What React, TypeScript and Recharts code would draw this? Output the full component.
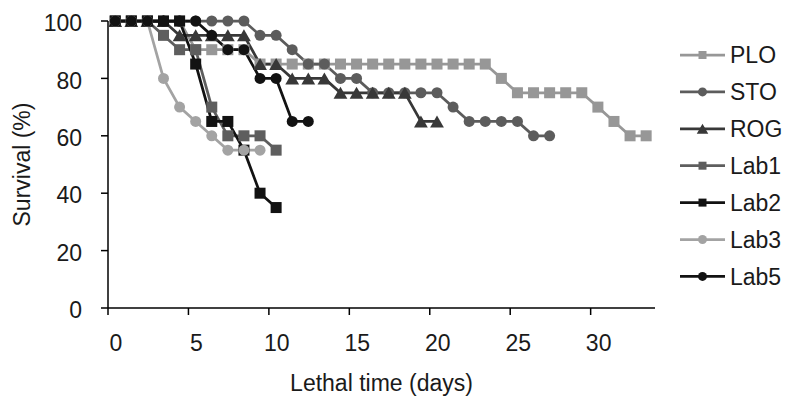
import { Legend, Line, LineChart, XAxis, YAxis } from "recharts";

// day positions of the observations (points sit mid-way through each day)
const days = [
  0.45, 1.45, 2.45, 3.45, 4.45, 5.45, 6.45, 7.45, 8.45, 9.45, 10.45, 11.45,
  12.45, 13.45, 14.45, 15.45, 16.45, 17.45, 18.45, 19.45, 20.45, 21.45, 22.45,
  23.45, 24.45, 25.45, 26.45, 27.45, 28.45, 29.45, 30.45, 31.45, 32.45, 33.45,
];

const plo = [
  100, 100, 100, 100, 100, 90, 90, 90, 90, 85, 85, 85, 85, 85, 85, 85, 85, 85,
  85, 85, 85, 85, 85, 85, 80, 75, 75, 75, 75, 75, 70, 65, 60, 60,
];
const sto = [
  100, 100, 100, 100, 100, 100, 100, 100, 100, 95, 95, 90, 85, 85, 80, 80, 75,
  75, 75, 75, 75, 70, 65, 65, 65, 65, 60, 60,
];
const rog = [
  100, 100, 100, 100, 95, 95, 95, 95, 95, 85, 85, 80, 80, 80, 75, 75, 75, 75,
  75, 65, 65,
];
const lab1 = [100, 100, 100, 95, 90, 90, 70, 60, 60, 60, 55];
const lab2 = [100, 100, 100, 100, 100, 85, 65, 65, 55, 40, 35];
const lab3 = [100, 100, 100, 80, 70, 65, 60, 55, 55, 55];
const lab5 = [100, 100, 100, 100, 100, 100, 95, 90, 90, 80, 80, 65, 65];

const seriesNames = ["PLO", "STO", "ROG", "Lab1", "Lab2", "Lab3", "Lab5"];
const xTicks = [0, 5, 10, 15, 20, 25, 30];
const yTicks = [0, 20, 40, 60, 80, 100];

const rows = days.map((day, i) => ({
  day,
  PLO: plo[i],
  STO: sto[i],
  ROG: rog[i],
  Lab1: lab1[i],
  Lab2: lab2[i],
  Lab3: lab3[i],
  Lab5: lab5[i],
}));

type Shape = "square" | "circle" | "triangle";
const look: Record<string, { color: string; shape: Shape }> = {
  PLO: { color: "#979797", shape: "square" },
  STO: { color: "#5c5c5c", shape: "circle" },
  ROG: { color: "#383838", shape: "triangle" },
  Lab1: { color: "#5e5e5e", shape: "square" },
  Lab2: { color: "#121212", shape: "square" },
  Lab3: { color: "#a3a3a3", shape: "circle" },
  Lab5: { color: "#121212", shape: "circle" },
};

const FONT = '"Liberation Sans", Arial, sans-serif';
const TEXT = "#1a1a1a";

function Marker({ cx, cy, shape, color, size }: { cx?: number; cy?: number; shape: Shape; color: string; size: number }) {
  if (cx == null || cy == null || Number.isNaN(cy)) return <g />;
  if (shape === "square") {
    return <rect x={cx - size / 2} y={cy - size / 2} width={size} height={size} fill={color} />;
  }
  if (shape === "circle") {
    return <circle cx={cx} cy={cy} r={size / 2} fill={color} />;
  }
  const w = size * 1.15;
  const h = size;
  return (
    <polygon
      points={`${cx - w / 2},${cy + h / 2} ${cx + w / 2},${cy + h / 2} ${cx},${cy - h / 2}`}
      fill={color}
    />
  );
}

function renderLegend() {
  return (
    <svg width={113} height={260}>
      {seriesNames.map((name, i) => {
        const y = 15 + i * 36.9;
        const { color, shape } = look[name];
        const size = shape === "triangle" ? 10 : shape === "circle" ? 9 : 8;
        return (
          <g key={name}>
            <line x1={4} x2={49} y1={y} y2={y} stroke={color} strokeWidth={2.75} />
            <Marker cx={26.5} cy={y} shape={shape} color={color} size={size} />
            <text x={54} y={y} dy="0.355em" fontSize={23} fontFamily={FONT} fill={TEXT}>
              {name}
            </text>
          </g>
        );
      })}
    </svg>
  );
}

function XTick(props: any) {
  const { x, y, payload } = props;
  return (
    <text x={x + 8} y={y} dy="0.71em" textAnchor="middle" fontSize={23} fontFamily={FONT} fill={TEXT}>
      {payload.value}
    </text>
  );
}

function YTitle() {
  return (
    <text
      x={22}
      y={164.5}
      transform="rotate(-90 22 164.5)"
      textAnchor="middle"
      dy="0.355em"
      fontSize={23}
      fontFamily={FONT}
      fill={TEXT}
    >
      Survival (%)
    </text>
  );
}

export default function App() {
  return (
    <div style={{ position: "absolute", left: 0, top: 0, background: "#fff" }}>
      <LineChart width={789} height={399} data={rows} margin={{ top: 21, right: 134, bottom: 0, left: 0 }}>
        <XAxis
          dataKey="day"
          type="number"
          domain={[0, 34]}
          ticks={xTicks}
          interval={0}
          height={91}
          tickSize={7}
          tickMargin={20}
          stroke="#000"
          strokeWidth={1.5}
          tick={<XTick />}
          label={{
            value: "Lethal time (days)",
            position: "insideBottom",
            offset: 8,
            fontSize: 23,
            fontFamily: FONT,
            fill: TEXT,
          }}
        />
        <YAxis
          type="number"
          domain={[0, 100]}
          ticks={yTicks}
          interval={0}
          width={108}
          tickSize={7}
          tickMargin={19}
          stroke="#000"
          strokeWidth={1.5}
          tick={{ fontSize: 23, fontFamily: FONT, fill: TEXT, dy: 2 }}
          label={<YTitle />}
        />
        <Legend
          layout="horizontal"
          align="center"
          verticalAlign="middle"
          content={renderLegend}
          wrapperStyle={{ left: 676, top: 40, width: 113 }}
        />
        {seriesNames.map((name) => {
          const { color, shape } = look[name];
          const size = shape === "triangle" ? 12 : 11;
          return (
            <Line
              key={name}
              dataKey={name}
              name={name}
              type="linear"
              stroke={color}
              strokeWidth={2.75}
              isAnimationActive={false}
              dot={(p: any) => (
                <Marker key={`${name}-${p.index}`} cx={p.cx} cy={p.cy} shape={shape} color={color} size={size} />
              )}
              activeDot={false}
            />
          );
        })}
      </LineChart>
    </div>
  );
}
